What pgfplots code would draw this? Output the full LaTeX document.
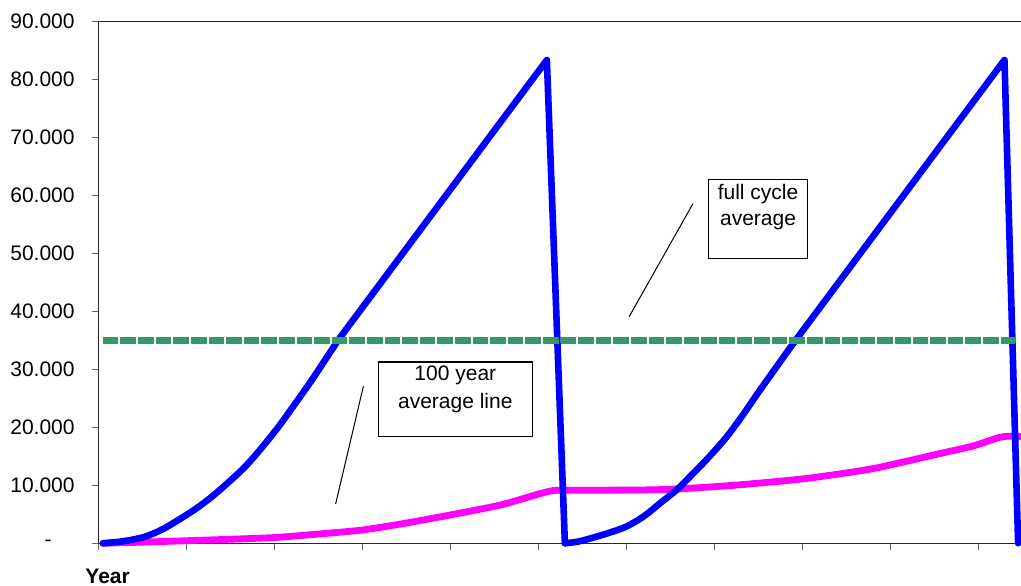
\documentclass[border=0pt]{standalone}
\usepackage{fontspec}
\setmainfont{Liberation Sans}
\usepackage{pgfplots}
\pgfplotsset{compat=1.18}
\definecolor{xlblue}{RGB}{0,0,255}
\definecolor{xlmag}{RGB}{255,0,255}
\definecolor{xlgreen}{RGB}{51,153,102}
\begin{document}
\begin{tikzpicture}
\begin{axis}[
  at={(0pt,0pt)}, anchor=south west, scale only axis,
  width=461.25pt, height=260.8pt,
  xmin=0, xmax=209.66, ymin=0, ymax=90,
  axis lines=left,
  axis line style={-, line width=0.5pt, draw=black!85},
  xtick={0,20,...,200}, xticklabels={},
  ytick={0,10,...,90},
  yticklabels={-\rule{11.5pt}{0pt},10.000,20.000,30.000,40.000,50.000,60.000,70.000,80.000,90.000},
  tick align=outside, major tick length=3.25pt,
  tick style={line width=0.5pt, draw=black!60},
  yticklabel style={font=\fontsize{10.5}{12}\selectfont, anchor=east, inner sep=0pt, xshift=-8.5pt},
  /pgf/number format/assume math mode=true,
  clip=false,
]
\addplot[xlmag, line width=3.4pt, line join=round, line cap=round, smooth, tension=0.4] coordinates {
(1,0.0) (10,0.2) (20,0.45) (30,0.7) (40,1.0) (50,1.6) (60,2.3) (70,3.5) (80,4.9) (91.3,6.6) (100,8.5) (103.3,9.1) (106,9.15)
(123.1,9.2) (132.2,9.4) (145.8,10.1) (161,11.2) (176.1,12.9) (191.3,15.5) (198.8,16.8) (204.9,18.3) (207.9,18.5) (209.6,18.4)
};
\addplot[xlblue, line width=3.3pt, line join=round, line cap=round, smooth, tension=0.5] coordinates {
(1,0) (6,0.4) (10.6,1.15) (14.5,2.4) (18.1,4.0) (22,5.9) (25.7,8.0) (29.5,10.5) (33.3,13.2) (37,16.4) (40.9,20.1) (44.7,24.1) (48.5,28.2) (54.5,35.1)
};
\addplot[xlblue, line width=3.3pt, line join=round, line cap=round] coordinates {
(54.5,35.1) (101.9,83.4) (106,0)
};
\addplot[xlblue, line width=3.3pt, line join=round, line cap=round, smooth, tension=0.5] coordinates {
(106,0) (109,0.3) (112.5,1.0) (116,1.8) (120,2.9) (124,4.7) (127.6,6.9) (131.5,9.3) (135.2,12.1) (139,15.1) (142.8,18.4) (146.5,22.2) (150.3,26.4) (157.9,34.5)
};
\addplot[xlblue, line width=3.3pt, line join=round, line cap=round] coordinates {
(157.9,34.5) (205.9,83.4) (209,0)
};
\addplot[xlgreen, line width=3.5pt, dash pattern=on 7.8pt off 1pt] coordinates {(1,35) (208.4,35)};
\draw[line width=0.5pt, draw=black!85] (rel axis cs:0,1) -- (rel axis cs:1,1);
% annotations
\draw[line width=0.6pt, fill=white] (axis cs:138.6,62.8) rectangle (axis cs:161.2,49.1);
\node[font=\fontsize{10.5}{12}\selectfont, inner sep=0pt] at (axis cs:149.9,60.2) {full cycle};
\node[font=\fontsize{10.5}{12}\selectfont, inner sep=0pt] at (axis cs:149.9,55.5) {average};
\draw[line width=0.5pt] (axis cs:135.1,58.6) -- (axis cs:120.6,39.1);
\draw[line width=0.6pt, fill=white] (axis cs:63.6,31.3) rectangle (axis cs:98.7,18.4);
\node[font=\fontsize{10.5}{12}\selectfont, inner sep=0pt] at (axis cs:81.1,28.9) {100 year};
\node[font=\fontsize{10.5}{12}\selectfont, inner sep=0pt] at (axis cs:81.1,24.2) {average line};
\draw[line width=0.5pt] (axis cs:60.2,27.1) -- (axis cs:53.9,6.8);
\end{axis}
\node[anchor=base west, inner sep=0pt, font=\fontsize{10.5}{12}\selectfont\bfseries] at (-6.75pt,-19.85pt) {Year};
\pgfresetboundingbox
\path[use as bounding box] (-49.25pt,-20.85pt) rectangle (461.25pt,271.65pt);
\end{tikzpicture}
\end{document}
